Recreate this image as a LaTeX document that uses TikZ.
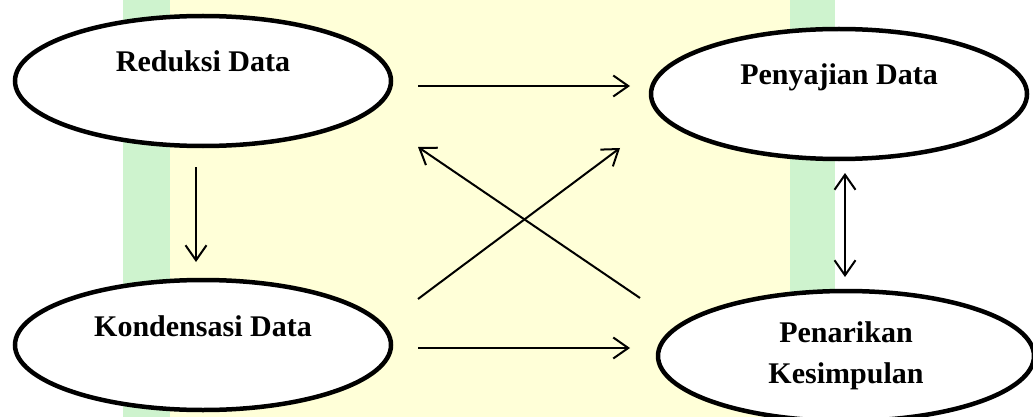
\documentclass[tikz,border=0pt]{standalone}
\usepackage{fontspec}
\setmainfont{Liberation Serif}
\usetikzlibrary{arrows.meta, calc}
\usetikzlibrary{shapes.geometric}
\definecolor{wmyellow}{RGB}{255,255,216}
\definecolor{wmgreen}{RGB}{206,243,206}

\tikzset{
  stage/.style={ellipse, draw, line width=4.5pt, fill=white, minimum width=376pt, minimum height=130pt, inner sep=0pt, outer sep=0pt, font=\bfseries\fontsize{30}{41}\selectfont, align=center},
  oneline/.style={text height=20pt, text depth=38pt},
  flow/.style={line width=2pt, ->},
  flowboth/.style={line width=2pt, <->},
  >={Straight Barb[length=15pt,width=21pt]}
}

\begin{document}
\begin{tikzpicture}[x=1pt,y=-1pt]
\useasboundingbox (0,0) rectangle (1033,417);

\fill[wmgreen] (123,0) rectangle (170,417);
\fill[wmyellow] (170,0) rectangle (790,417);
\fill[wmgreen] (790,0) rectangle (835,417);

\node[stage, oneline] (red) at (203,81) {Reduksi Data};
\node[stage, oneline] (saj) at (839,94) {Penyajian Data};
\node[stage, oneline] (kon) at (203,345) {Kondensasi Data};
\node[stage] (pen) at (846,356) {Penarikan\\Kesimpulan};

\draw[flow] ($(red.east)+(27,5)$) -- ($(saj.west)+(-21,-8)$);
\draw[flow] ($(kon.east)+(27,3)$) -- ($(pen.west)+(-28,-8)$);
\draw[flow] ($(red.south)+(-7,21)$) -- ($(kon.north)+(-7,-18)$);
\draw[flowboth] ($(saj.south)+(6,14)$) -- ($(pen.north)+(-1,-14)$);
\draw[flow] ($(kon.east)+(27,-46)$) -- ($(saj.west)+(-31,54)$);
\draw[flow] ($(pen.west)+(-18,-58)$) -- ($(red.east)+(27,66)$);
\end{tikzpicture}
\end{document}
